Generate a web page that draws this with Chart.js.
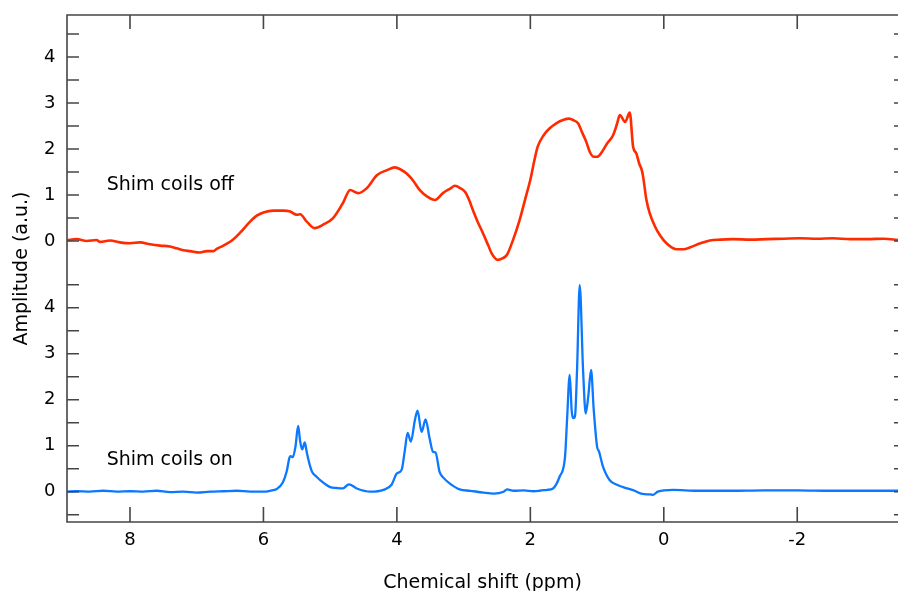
<!DOCTYPE html>
<html>
<head>
<meta charset="utf-8">
<script src="https://cdn.jsdelivr.net/npm/chart.js@4.4.1/dist/chart.umd.min.js"></script>
<style>
  html, body { margin: 0; padding: 0; background: #fff; }
  #wrap { width: 898px; height: 591px; }
</style>
</head>
<body>
<div id="wrap"><canvas id="nmrChart" width="898" height="591"></canvas></div>
<script>
// chemical shift (ppm) and amplitude, shim coils off
const shiftOff = [8.94, 8.8, 8.65, 8.5, 8.45, 8.3, 8.15, 8.0, 7.85, 7.7, 7.55, 7.4, 7.3, 7.2, 7.1, 6.95, 6.85,
  6.75, 6.7, 6.6, 6.45, 6.35, 6.2, 6.1, 6.0, 5.85, 5.7, 5.6, 5.5, 5.45, 5.35, 5.23, 5.1, 4.96, 4.81, 4.7,
  4.58, 4.45, 4.3, 4.15, 4.03, 3.95, 3.85, 3.75, 3.66, 3.54, 3.43, 3.31, 3.2, 3.13, 3.05, 2.98, 2.92, 2.86,
  2.79, 2.71, 2.63, 2.58, 2.49, 2.42, 2.35, 2.26, 2.16, 2.07, 2.0, 1.94, 1.89, 1.8, 1.71, 1.6, 1.51, 1.42,
  1.36, 1.28, 1.23, 1.16, 1.11, 1.05, 1.0, 0.92, 0.85, 0.76, 0.7, 0.66, 0.58, 0.51, 0.46, 0.41, 0.37, 0.33,
  0.31, 0.26, 0.21, 0.13, 0.06, -0.04, -0.19, -0.3, -0.39, -0.55, -0.69, -0.85, -1.03, -1.3, -1.54, -1.8,
  -2.04, -2.3, -2.53, -2.8, -3.04, -3.3, -3.51];
const ampOff = [0.02, 0.04, 0.0, 0.02, -0.02, 0.01, -0.03, -0.05, -0.03, -0.07, -0.1, -0.12, -0.16, -0.2, -0.22, -0.25, -0.22,
  -0.22, -0.17, -0.1, 0.04, 0.18, 0.42, 0.55, 0.62, 0.66, 0.66, 0.64, 0.57, 0.58, 0.42, 0.28, 0.36, 0.49, 0.82, 1.11,
  1.04, 1.15, 1.43, 1.54, 1.6, 1.56, 1.46, 1.3, 1.11, 0.96, 0.89, 1.04, 1.14, 1.2, 1.15, 1.07, 0.9, 0.67,
  0.42, 0.17, -0.1, -0.27, -0.41, -0.38, -0.3, 0.02, 0.46, 0.95, 1.33, 1.75, 2.05, 2.3, 2.45, 2.57, 2.63, 2.66,
  2.63, 2.55, 2.38, 2.15, 1.94, 1.83, 1.83, 1.95, 2.12, 2.3, 2.55, 2.74, 2.59, 2.79, 2.05, 1.9, 1.69, 1.54,
  1.4, 0.89, 0.6, 0.31, 0.13, -0.05, -0.18, -0.18, -0.14, -0.05, 0.01, 0.03, 0.04, 0.03, 0.04, 0.05,
  0.06, 0.05, 0.06, 0.04, 0.04, 0.05, 0.02];

// chemical shift (ppm) and amplitude, shim coils on
const shiftOn = [8.94, 8.8, 8.6, 8.4, 8.2, 8.0, 7.8, 7.6, 7.4, 7.2, 7.0, 6.8, 6.6, 6.4, 6.2, 6.0, 5.9, 5.8,
  5.71, 5.65, 5.61, 5.59, 5.56, 5.52, 5.48, 5.45, 5.42, 5.38, 5.35, 5.3, 5.27, 5.2, 5.15, 5.0, 4.9, 4.81,
  4.72, 4.6, 4.4, 4.2, 4.08, 4.0, 3.93, 3.88, 3.84, 3.79, 3.73, 3.69, 3.63, 3.57, 3.51, 3.46, 3.42, 3.36,
  3.3, 3.21, 3.06, 2.9, 2.7, 2.55, 2.4, 2.35, 2.25, 2.1, 1.95, 1.86, 1.75, 1.66, 1.56, 1.48, 1.45, 1.41,
  1.38, 1.35, 1.33, 1.3, 1.26, 1.21, 1.17, 1.13, 1.09, 1.05, 1.0, 0.97, 0.91, 0.81, 0.7, 0.61, 0.45, 0.32,
  0.2, 0.165, 0.09, -0.14, -0.5, -1.0, -1.5, -2.0, -2.5, -3.0, -3.51];
const ampOn = [0.0, 0.01, 0.0, 0.02, 0.0, 0.01, 0.0, 0.02, -0.01, 0.0, -0.02, 0.0, 0.01, 0.02, 0.0, 0.0, 0.02, 0.06,
  0.2, 0.45, 0.74, 0.77, 0.75, 0.98, 1.43, 1.1, 0.92, 1.07, 0.85, 0.55, 0.43, 0.32, 0.25, 0.1, 0.08, 0.07,
  0.16, 0.07, 0.0, 0.04, 0.15, 0.4, 0.47, 0.91, 1.28, 1.09, 1.56, 1.76, 1.3, 1.57, 1.16, 0.87, 0.85, 0.43,
  0.3, 0.18, 0.05, 0.02, -0.02, -0.04, 0.0, 0.05, 0.02, 0.03, 0.01, 0.02, 0.04, 0.07, 0.33, 0.76, 1.56, 2.54,
  1.75, 1.6, 1.65, 2.65, 4.49, 2.65, 1.7, 2.1, 2.65, 1.78, 0.98, 0.87, 0.54, 0.25, 0.15, 0.1, 0.03, -0.05,
  -0.06, -0.07, 0.0, 0.04, 0.02, 0.02, 0.03, 0.03, 0.02, 0.02, 0.02];

const shiftTicks = [8, 6, 4, 2, 0, -2];
const ampTicks = [0, 1, 2, 3, 4];
const labelOff = "Shim coils off";
const labelOn = "Shim coils on";

const FONT = "'DejaVu Sans', Verdana, sans-serif";
const AXIS = "#454545";
const INK = "#000";

const toPoints = (xs, ys) => xs.map((x, i) => ({ x, y: ys[i] }));

// frame, inward tick marks, panel labels and the shared y title
const frame = {
  id: "frame",
  afterDraw(chart) {
    const { ctx, chartArea: a, scales } = chart;
    ctx.save();
    ctx.strokeStyle = AXIS;
    ctx.lineWidth = 1.6;
    ctx.beginPath();
    ctx.moveTo(a.right, a.top);
    ctx.lineTo(a.left, a.top);
    ctx.lineTo(a.left, a.bottom);
    ctx.lineTo(a.right, a.bottom);
    ["yTop", "yBot"].forEach((id) => {
      const s = scales[id];
      for (let v = Math.ceil(s.min * 2) / 2; v < s.max; v += 0.5) {
        const py = s.getPixelForValue(v);
        ctx.moveTo(a.left, py);
        ctx.lineTo(a.left + 12, py);
        ctx.moveTo(a.right - 4, py);
        ctx.lineTo(a.right, py);
      }
    });
    shiftTicks.forEach((v) => {
      const px = scales.x.getPixelForValue(v);
      ctx.moveTo(px, a.top);
      ctx.lineTo(px, a.top + 14);
      ctx.moveTo(px, a.bottom);
      ctx.lineTo(px, a.bottom - 15);
    });
    ctx.stroke();

    ctx.fillStyle = INK;
    ctx.font = "19px " + FONT;
    ctx.textAlign = "left";
    ctx.textBaseline = "middle";
    ctx.fillText(labelOff, scales.x.getPixelForValue(8.35), scales.yTop.getPixelForValue(1.22));
    ctx.fillText(labelOn, scales.x.getPixelForValue(8.35), scales.yBot.getPixelForValue(0.69));

    ctx.translate(22, (a.top + a.bottom) / 2);
    ctx.rotate(-Math.PI / 2);
    ctx.textAlign = "center";
    ctx.fillText("Amplitude (a.u.)", 0, 0);
    ctx.restore();
  },
};

const yAxis = (min, max, weight) => ({
  type: "linear",
  position: "left",
  stack: "amp",
  stackWeight: weight,
  min: min,
  max: max,
  grid: { display: false },
  border: { display: false },
  afterBuildTicks: (scale) => {
    scale.ticks = ampTicks.map((v) => ({ value: v }));
  },
  afterFit: (scale) => {
    scale.width = 67;
    scale.paddingTop = 0;
    scale.paddingBottom = 0;
  },
  ticks: {
    padding: 3.5,
    color: INK,
    font: { family: FONT, size: 18 },
  },
});

new Chart(document.getElementById("nmrChart").getContext("2d"), {
  type: "line",
  data: {
    datasets: [
      {
        label: labelOff,
        data: toPoints(shiftOff, ampOff),
        yAxisID: "yTop",
        borderColor: "#ff2a00",
        borderWidth: 2.6,
        pointRadius: 0,
        cubicInterpolationMode: "monotone",
      },
      {
        label: labelOn,
        data: toPoints(shiftOn, ampOn),
        yAxisID: "yBot",
        borderColor: "#0a78ff",
        borderWidth: 2.3,
        pointRadius: 0,
        cubicInterpolationMode: "monotone",
      },
    ],
  },
  options: {
    responsive: false,
    animation: false,
    layout: { padding: { top: 15, right: 0, left: 0, bottom: 0 } },
    plugins: {
      legend: { display: false },
      tooltip: { enabled: false },
    },
    scales: {
      x: {
        type: "linear",
        reverse: true,
        min: -3.51,
        max: 8.944,
        grid: { display: false },
        border: { display: false },
        afterBuildTicks: (scale) => {
          scale.ticks = shiftTicks.map((v) => ({ value: v }));
        },
        afterFit: (scale) => {
          scale.height = 69;
          scale.paddingLeft = 0;
          scale.paddingRight = 0;
        },
        ticks: {
          padding: 0,
          maxRotation: 0,
          color: INK,
          font: { family: FONT, size: 18 },
        },
        title: {
          display: true,
          text: "Chemical shift (ppm)",
          color: INK,
          padding: { top: 0, bottom: -3 },
          font: { family: FONT, size: 19 },
        },
      },
      yBot: yAxis(-0.659, 5.0, 5.659),
      yTop: yAxis(-0.45, 4.913, 5.363),
    },
  },
  plugins: [frame],
});
</script>
</body>
</html>
